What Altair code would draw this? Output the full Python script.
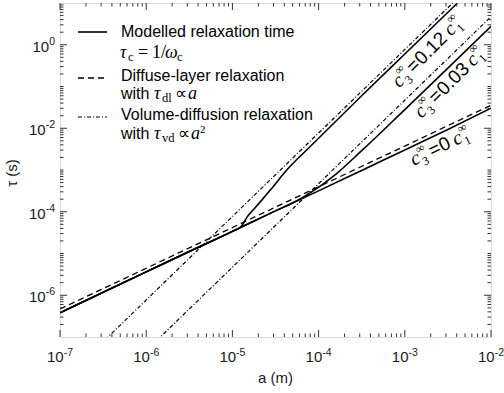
import altair as alt
import pandas as pd

# ---------------- data ----------------
# diffuse-layer relaxation (dashed, slope 1)
a_dl = [1e-7, 1e-2]
tau_dl = [4.68e-7, 3.55e-2]
# volume-diffusion relaxation (dash-dot, slope 2), c3 = 0.12 and 0.03
a_vd = [1e-7, 1e-2]
tau_vd_012 = [7.7e-9, 77.0]
tau_vd_003 = [4.7e-10, 4.7]
# modelled relaxation time (solid)
a_c0 = [1e-7, 3.16e-7, 1e-6, 3.16e-6, 1e-5, 3.16e-5, 1e-4, 3.16e-4, 1e-3, 3.16e-3, 1e-2]
tau_c0 = [3.80e-7, 1.175e-6, 3.63e-6, 1.12e-5, 3.39e-5, 1.05e-4, 3.16e-4, 9.77e-4, 3.02e-3, 9.33e-3, 3.02e-2]
a_c003 = [1e-7, 1e-6, 3.16e-6, 1e-5, 3.16e-5, 5.0e-5, 7.9e-5, 1.58e-4, 3.16e-4, 1e-3, 3.16e-3, 1e-2]
tau_c003 = [3.80e-7, 3.63e-6, 1.12e-5, 3.39e-5, 1.05e-4, 1.62e-4, 2.8e-4, 7.9e-4, 2.9e-3, 2.8e-2, 2.75e-1, 2.77]
a_c012 = [1e-7, 1e-6, 3.16e-6, 1e-5, 1.26e-5, 1.51e-5, 1.74e-5, 2.19e-5, 2.75e-5, 4.27e-5, 7.94e-5, 3.16e-4, 1e-3, 4.07e-3]
tau_c012 = [3.80e-7, 3.63e-6, 1.12e-5, 3.39e-5, 4.37e-5, 7.9e-5, 1.1e-4, 1.9e-4, 3.3e-4, 1.0e-3, 3.6e-3, 6.0e-2, 6.0e-1, 9.9]

# curve labels: value of c3 and a point on the labelled curve
lab_values = ["0.12", "0.03", "0"]
lab_a = [1.40e-3, 2.66e-3, 2.24e-3]
lab_tau = [1.16, 0.196, 6.6e-3]

x_tick_values = [1e-7, 1e-6, 1e-5, 1e-4, 1e-3, 1e-2]
x_tick_exps = ["-7", "-6", "-5", "-4", "-3", "-2"]
y_tick_values = [1e-6, 1e-4, 1e-2, 1e0]
y_tick_exps = ["-6", "-4", "-2", "0"]
x_minor = [m * 10.0 ** e for e in range(-7, -2) for m in range(2, 10)]
y_minor = [m * 10.0 ** e for e in range(-7, 1) for m in range(1, 10)
           if not (m == 1 and e in (-6, -4, -2, 0))][1:]

W, H = 431, 334
SANS = "Liberation Sans"
SERIF = "Liberation Serif"
INK = "#1a1a1a"

xscale = alt.Scale(type="log", domain=[1e-7, 1e-2], nice=False)
yscale = alt.Scale(type="log", domain=[1e-7, 1e1], nice=False)
XE = dict(scale=xscale, axis=None)
YE = dict(scale=yscale, axis=None)


def line_layer(a, t, dash=None, width=1.6, interp="linear"):
    df = pd.DataFrame({"a": a, "tau": t})
    kw = dict(color="black", strokeWidth=width, clip=True, interpolate=interp)
    if dash:
        kw["strokeDash"] = dash
    return alt.Chart(df).mark_line(**kw).encode(
        x=alt.X("a:Q", **XE), y=alt.Y("tau:Q", **YE))


layers = []
layers.append(line_layer(a_c0, tau_c0, interp="monotone"))
layers.append(line_layer(a_c003, tau_c003, interp="monotone"))
layers.append(line_layer(a_c012, tau_c012, interp="monotone"))
layers.append(line_layer(a_dl, tau_dl, dash=[6, 4], width=1.3))
layers.append(line_layer(a_vd, tau_vd_012, dash=[4, 2, 1, 2], width=1.2))
layers.append(line_layer(a_vd, tau_vd_003, dash=[4, 2, 1, 2], width=1.2))


# ---- inward ticks ----
def xticks(vals, L):
    df = pd.DataFrame({"a": vals})
    b = alt.Chart(df).mark_rule(color="#333", strokeWidth=1).encode(
        x=alt.X("a:Q", **XE), y=alt.value(H), y2=alt.value(H - L))
    t = alt.Chart(df).mark_rule(color="#333", strokeWidth=1).encode(
        x=alt.X("a:Q", **XE), y=alt.value(0), y2=alt.value(L))
    return [b, t]


def yticks(vals, L):
    df = pd.DataFrame({"tau": vals})
    l = alt.Chart(df).mark_rule(color="#333", strokeWidth=1).encode(
        y=alt.Y("tau:Q", **YE), x=alt.value(0), x2=alt.value(L))
    r = alt.Chart(df).mark_rule(color="#333", strokeWidth=1).encode(
        y=alt.Y("tau:Q", **YE), x=alt.value(W), x2=alt.value(W - L))
    return [l, r]


layers += xticks(x_tick_values, 7) + xticks(x_minor, 3.5)
layers += yticks(y_tick_values, 7) + yticks(y_minor, 3.5)

one = pd.DataFrame({"k": [0]})


def txt(s, x, y, size=16, font=SANS, style="normal", align="left", baseline="middle",
        angle=0, dx=0, dy=0, color="black"):
    kw = dict(text=s, font=font, fontSize=size, fontStyle=style, align=align,
              baseline=baseline, color=color, dx=dx, dy=dy)
    if angle:
        kw["angle"] = angle
    return alt.Chart(one).mark_text(**kw).encode(x=x, y=y)


def wexp(s, size=10.5):
    return sum((0.333 if ch == "-" else 0.556) * size for ch in s)


# ---- tick labels (10 with superscript exponent) ----
W10 = 16.7
for v, e in zip(x_tick_values, x_tick_exps):
    off = (W10 + wexp(e)) / 2 - wexp(e)
    xv = alt.X(datum=v, **XE)
    layers.append(txt("10", xv, alt.value(H + 25), 15, align="right", baseline="alphabetic",
                      dx=off, color=INK))
    layers.append(txt(e, xv, alt.value(H + 19), 10.5, align="left", baseline="alphabetic",
                      dx=off, color=INK))
for v, e in zip(y_tick_values, y_tick_exps):
    yv = alt.Y(datum=v, **YE)
    xe = -5 - wexp(e)
    layers.append(txt("10", alt.value(xe), yv, 15, align="right", baseline="alphabetic",
                      dy=7, color=INK))
    layers.append(txt(e, alt.value(xe), yv, 10.5, align="left", baseline="alphabetic",
                      dy=0, color=INK))

# axis titles
layers.append(txt("a (m)", alt.value(W / 2), alt.value(H + 41), 15, align="center", color=INK))
layers.append(txt("τ (s)", alt.value(-48), alt.value(H / 2 + 3), 15, align="center",
                  angle=270, color=INK))


def sample(y, dash=None, width=1.6):
    kw = dict(color="black", strokeWidth=width)
    if dash:
        kw["strokeDash"] = dash
    return alt.Chart(one).mark_rule(**kw).encode(x=alt.value(18), x2=alt.value(47), y=alt.value(y))


def V(v):
    return alt.value(v)


# ---- legend ----
layers += [sample(29), sample(75, [6, 4], 1.3), sample(114, [4, 2, 1, 2], 1.2)]
layers += [
    txt("Modelled relaxation time", V(61), V(29)),
    txt("τ", V(60), V(50), 18, SERIF, "italic"), txt("c", V(68), V(54), 12.5, SERIF),
    txt("=", V(78), V(50), 18, SERIF), txt("1/", V(92), V(50), 18, SERIF),
    txt("ω", V(105), V(50), 18, SERIF, "italic"), txt("c", V(117), V(54), 12.5, SERIF),
    txt("Diffuse-layer relaxation", V(61), V(73)),
    txt("with", V(61), V(91)), txt("τ", V(94), V(91), 18, SERIF, "italic"),
    txt("dl", V(102), V(95), 12.5, SERIF),
    txt("∝", V(115), V(91), 17, SERIF), txt("a", V(128), V(91), 18, SERIF, "italic"),
    txt("Volume-diffusion relaxation", V(61), V(112)),
    txt("with", V(61), V(131)), txt("τ", V(94), V(131), 18, SERIF, "italic"),
    txt("vd", V(102), V(135), 12.5, SERIF),
    txt("∝", V(118), V(131), 17, SERIF), txt("a", V(131), V(131), 18, SERIF, "italic"),
    txt("2", V(140), V(126.5), 11, SERIF),
]


# ---- curve labels (rotated along the curves) ----
def curve_label(a, t, angle, value, perp):
    wv = sum(5.3 if ch == "." else 10.6 for ch in value)
    pieces = [("c", 0, 0, 20, SERIF, "italic"), ("∞", 9, -7.5, 12, SERIF, "normal"),
              ("3", 10, 6.5, 12, SERIF, "normal"), ("=", 20.5, 0, 19, SANS, "normal"),
              (value, 32, 0, 19, SANS, "normal"),
              ("c", 32 + wv + 4, 0, 20, SERIF, "italic"), ("∞", 32 + wv + 13, -7.5, 12, SERIF, "normal"),
              ("1", 32 + wv + 14, 6.5, 12, SERIF, "normal")]
    total = 32 + wv + 22
    out = []
    for s, dx, dy, size, font, style in pieces:
        out.append(txt(s, alt.X(datum=a, **XE), alt.Y(datum=t, **YE), size, font, style,
                       angle=angle, dx=dx - total / 2, dy=dy + perp))
    return out


layers += curve_label(lab_a[0], lab_tau[0], 315, lab_values[0], 14)
layers += curve_label(lab_a[1], lab_tau[1], 315, lab_values[1], 11.5)
layers += curve_label(lab_a[2], lab_tau[2], 334, lab_values[2], 12)

chart = alt.layer(*layers).properties(
    width=W, height=H, autosize=alt.AutoSizeParams(type="none"),
    padding={"left": 60, "top": 3, "right": 13, "bottom": 56},
).configure_view(stroke="#333", strokeWidth=1).configure(background="white")

chart.save("out.html", embed_options={"renderer": "svg", "actions": False})
